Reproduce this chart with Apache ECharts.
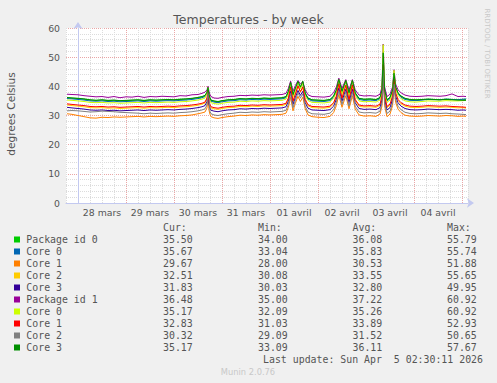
<!DOCTYPE html>
<html><head><meta charset="utf-8">
<script src="https://cdn.jsdelivr.net/npm/echarts@6/dist/echarts.min.js"></script>
<style>html,body{margin:0;padding:0;background:#f0f0f0;}#c{width:497px;height:383px;}</style>
</head><body><div id="c"></div>
<script>
// hours relative to 28 mars 00:00
const hours = [-5.5,-3,0,3,6,9,12,15,18,21,24,27,30,33,36,39,42,45,48,51,54,57,60,62,63.5,64.5,65,65.5,66,66.5,68,70,72,75,78,81,84,87,90,93,96,99,102,104,105.2,106.3,107.5,108.7,110,111.2,112.4,113.6,115,117,120,123,126,127.8,129.2,130.4,132,133.9,135.5,137.2,138.6,140.5,143,146,149,151,152,152.6,153.3,154.5,156,157.3,158,158.8,160,161.5,163.5,166,169,172,175,178,181,184,187,190,192.5,194];
const dayLabels = ['28 mars','29 mars','30 mars','31 mars','01 avril','02 avril','03 avril','04 avril'];
const yTickLabels = ['0','10','20','30','40','50','60'];

const seriesNames = ['Package id 0','Core 0','Core 1','Core 2','Core 3','Package id 1','Core 0','Core 1','Core 2','Core 3'];

const pkg0 = [36.1,36.0,35.8,35.6,35.3,35.2,35.3,35.1,35.2,35.0, 35.1,35.2,35.3,35.1,35.3,35.2,35.3,35.4,35.3,35.5, 35.6,35.8,36.1,36.4,36.8,37.9,39.4,37.1,35.9,35.2, 34.9,34.7,35.0,35.3,35.4,35.7,35.6,35.8,35.7,35.9, 35.8,35.9,36.0,36.4,38.2,41.2,37.1,39.3,41.5,39.7, 41.4,37.6,35.9,35.3,35.2,35.1,35.4,36.6,38.7,42.2, 38.2,41.8,37.7,41.9,37.7,35.8,35.5,35.6,35.4,36.1, 38.7,50.5,38.7,35.3,36.1,38.7,44.0,39.7,37.7,36.6, 35.8,35.4,35.3,35.4,35.6,35.5,35.4,35.6,35.5,35.3, 35.4,35.5];
const core0a = [35.8,35.7,35.5,35.3,35.0,34.9,35.0,34.8,34.9,34.7, 34.8,34.9,35.0,34.8,35.0,34.9,35.0,35.1,35.0,35.2, 35.3,35.5,35.8,36.1,36.5,37.6,39.0,36.8,35.6,34.9, 34.6,34.4,34.7,35.0,35.1,35.4,35.3,35.5,35.4,35.6, 35.5,35.6,35.7,36.1,37.9,41.0,36.8,39.0,41.2,39.4, 41.0,37.3,35.6,35.0,34.9,34.8,35.1,36.3,38.4,42.0, 37.9,41.6,37.4,41.6,37.4,35.5,35.2,35.3,35.1,35.8, 38.4,50.2,38.4,35.0,35.8,38.4,43.8,39.4,37.4,36.3, 35.5,35.2,35.1,35.3,35.5,35.4,35.4,35.6,35.5,35.4, 35.6,35.7];
const core1a = [30.6,30.4,30.0,29.6,29.2,29.1,29.4,29.3,29.5,29.4, 29.5,29.6,29.7,29.5,29.7,29.6,29.7,29.8,29.7,29.9, 30.0,30.2,30.6,30.9,31.2,32.6,36.5,31.8,30.4,29.6, 29.2,29.0,29.3,29.6,29.8,30.1,30.0,30.2,30.1,30.3, 30.2,30.3,30.4,30.8,32.8,36.2,31.6,34.2,36.6,34.8, 36.3,32.3,30.2,29.6,29.4,29.3,29.7,31.0,33.4,37.2, 32.8,36.8,32.3,36.8,32.2,30.2,29.8,29.9,29.7,30.5, 33.3,46.0,33.3,29.6,30.5,33.4,40.5,34.5,32.2,31.0, 30.1,29.8,29.7,29.8,30.0,29.9,29.8,30.0,29.9,29.7, 29.8,29.7];
const core2a = [33.6,33.4,33.2,33.0,32.7,32.6,32.7,32.5,32.6,32.4, 32.5,32.6,32.7,32.5,32.7,32.6,32.7,32.8,32.7,32.9, 33.0,33.2,33.5,33.9,34.3,35.8,38.3,34.7,33.3,32.6, 32.3,32.1,32.4,32.7,32.8,33.1,33.0,33.2,33.1,33.3, 33.2,33.3,33.4,33.8,35.7,39.5,34.6,37.2,40.0,38.0, 39.6,35.2,33.3,32.7,32.6,32.5,32.8,34.0,36.4,40.6, 35.7,40.2,35.2,40.2,35.2,33.2,32.9,33.0,32.8,33.5, 36.3,49.8,36.3,32.7,33.5,36.4,43.2,37.6,35.2,34.0, 33.2,32.8,32.7,32.8,33.0,32.9,32.8,32.9,32.8,32.6, 32.7,32.5];
const core3a = [32.8,32.6,32.4,32.2,31.9,31.8,31.9,31.7,31.8,31.6, 31.7,31.8,31.9,31.7,31.9,31.8,31.9,32.0,31.9,32.1, 32.2,32.4,32.7,33.0,33.4,34.8,37.4,33.8,32.5,31.8, 31.5,31.3,31.6,31.9,32.0,32.3,32.2,32.4,32.3,32.5, 32.4,32.5,32.6,33.0,34.9,38.3,33.8,36.2,38.6,36.9, 38.3,34.4,32.5,31.9,31.8,31.7,32.0,33.2,35.6,39.4, 34.9,39.0,34.4,39.0,34.4,32.4,32.1,32.2,32.0,32.7, 35.5,44.8,35.5,31.9,32.7,35.6,40.2,36.6,34.4,33.2, 32.4,32.0,31.9,32.0,32.2,32.1,32.0,32.1,32.0,31.8, 31.9,31.8];
const pkg1 = [37.3,37.2,37.1,36.8,36.6,36.4,36.5,36.2,36.5,36.1, 36.4,36.3,36.6,36.2,36.5,36.4,36.6,36.5,36.4,36.8, 36.7,37.1,37.2,37.6,38.0,38.8,40.0,38.3,37.1,36.5, 36.0,35.9,36.2,36.5,36.6,36.9,36.8,37.0,36.9,37.1, 37.0,37.1,37.2,37.6,39.3,41.8,38.3,40.3,42.0,40.8, 41.6,38.8,37.1,36.5,36.4,36.3,36.6,37.8,39.8,42.8, 39.3,42.3,38.8,42.3,38.8,37.0,36.7,36.8,36.6,37.3, 39.8,54.5,39.8,36.5,37.3,39.8,45.7,40.8,38.8,37.8, 37.0,36.6,36.5,36.6,36.8,36.7,36.6,36.8,37.4,36.5, 36.6,36.5];
const core0b = [35.3,35.2,35.0,34.8,34.5,34.4,34.5,34.3,34.4,34.2, 34.3,34.4,34.5,34.3,34.5,34.4,34.5,34.6,34.5,34.7, 34.8,35.0,35.3,35.6,36.0,37.8,39.5,36.3,35.1,34.4, 34.1,33.9,34.2,34.5,34.6,34.9,34.8,35.0,34.9,35.1, 35.0,35.1,35.2,35.6,37.4,41.0,36.3,38.6,41.4,39.2, 41.0,36.8,35.1,34.5,34.4,34.3,34.6,35.8,38.0,42.2, 37.4,41.8,36.9,41.9,36.9,35.0,34.7,34.8,34.6,35.3, 38.0,54.3,38.0,34.5,35.3,38.0,45.5,39.2,36.9,35.8, 35.0,34.7,34.6,34.8,35.0,34.9,34.9,35.1,35.0,35.0, 35.1,35.2];
const core1b = [34.0,33.8,33.6,33.4,33.1,33.0,33.1,32.9,33.0,32.8, 32.9,33.0,33.1,32.9,33.1,33.0,33.1,33.2,33.1,33.3, 33.4,33.6,33.9,34.2,34.6,36.0,38.6,35.0,33.7,33.0, 32.7,32.5,32.8,33.1,33.2,33.5,33.4,33.6,33.5,33.7, 33.6,33.7,33.8,34.2,36.0,39.8,35.0,37.4,40.2,38.2, 39.8,35.5,33.7,33.1,33.0,32.9,33.2,34.4,36.7,40.9, 36.0,40.4,35.5,40.5,35.5,33.6,33.3,33.4,33.2,33.9, 36.7,47.5,36.7,33.1,33.9,36.7,42.5,37.8,35.5,34.4, 33.6,33.2,33.1,33.2,33.4,33.3,33.2,33.3,33.1,33.0, 32.9,32.8];
const core2b = [31.6,31.7,31.6,31.4,31.2,31.3,31.5,31.4,31.3,31.1, 31.0,30.9,30.8,30.6,30.8,30.7,30.8,30.9,30.8,31.0, 31.1,31.3,31.6,31.9,32.3,33.6,38.0,36.5,31.4,30.6, 30.2,30.0,30.3,30.6,30.8,31.1,31.0,31.2,31.1,31.3, 31.2,31.3,31.4,31.8,33.8,37.5,32.7,35.2,37.8,36.0, 37.4,33.2,31.2,30.6,30.5,30.4,30.8,32.0,34.5,38.5, 33.8,38.1,33.2,38.0,33.2,31.2,30.9,31.0,30.8,31.5, 34.4,45.5,34.4,30.7,31.5,34.4,40.8,35.6,33.2,32.0, 31.1,30.7,30.6,30.7,30.9,30.8,30.7,30.8,30.6,30.5, 30.4,30.3];
const core3b = [36.2,36.0,35.9,35.7,35.4,35.2,35.4,35.2,35.3,35.1, 35.2,35.3,35.4,35.2,35.4,35.3,35.4,35.5,35.4,35.6, 35.7,35.9,36.2,36.5,36.9,38.0,39.6,37.2,36.0,35.3, 35.0,34.8,35.1,35.4,35.5,35.8,35.7,35.9,35.8,36.0, 35.9,36.0,36.1,36.5,38.3,41.4,37.2,39.4,41.7,39.8, 41.8,37.7,36.0,35.4,35.3,35.2,35.5,36.7,38.8,42.4, 38.3,42.0,37.8,42.1,37.8,35.9,35.6,35.7,35.5,36.2, 38.8,51.5,38.8,35.4,36.2,38.8,44.5,39.8,37.8,36.7, 35.9,35.5,35.4,35.5,35.6,35.5,35.4,35.5,35.4,35.3, 35.2,35.2];

const curVals = ['35.50','35.67','29.67','32.51','31.83','36.48','35.17','32.83','30.32','35.17'];
const minVals = ['34.00','33.04','28.00','30.08','30.03','35.00','32.09','31.03','29.09','33.09'];
const avgVals = ['36.08','35.83','30.53','33.55','32.80','37.22','35.26','33.89','31.52','36.11'];
const maxVals = ['55.79','55.74','51.88','55.65','49.95','60.92','60.92','52.93','50.65','57.67'];
const lastUpdate = 'Last update: Sun Apr  5 02:30:11 2026';

const colors = ['#00cc00','#0066b3','#ff8000','#ffcc00','#330099','#990099','#ccff00','#ff0000','#808080','#008f00'];
const allData = [pkg0, core0a, core1a, core2a, core3a, pkg1, core0b, core1b, core2b, core3b];

const chart = echarts.init(document.getElementById('c'), null, {renderer: 'svg', width: 497, height: 383});
const SANS = 'DejaVu Sans';
const MONO = 'DejaVu Sans Mono';
const TXT = '#555';
const MINOR = '#dcdcdc';
const MAJOR = '#eaa6a6';
const AXIS = '#c3c9f0';

const series = allData.map((vals, i) => ({
  name: seriesNames[i] + '#' + i,
  type: 'line',
  data: hours.map((h, k) => [h, vals[k]]),
  showSymbol: false,
  symbol: 'none',
  lineStyle: {width: 1, color: colors[i]},
  itemStyle: {color: colors[i]},
  silent: true
}));

const graphics = [];
graphics.push({type: 'text', x: 248.5, y: 19.5, style: {text: 'Temperatures - by week', font: '12.5px "' + SANS + '"', fill: TXT, textAlign: 'center', textVerticalAlign: 'middle'}});
graphics.push({type: 'text', x: 10.5, y: 114, rotation: Math.PI / 2, style: {text: 'degrees Celsius', font: '10.6px "' + SANS + '"', fill: TXT, textAlign: 'center', textVerticalAlign: 'middle'}});
graphics.push({type: 'text', x: 487, y: 53.5, rotation: -Math.PI / 2, style: {text: 'RRDTOOL / TOBI OETIKER', font: '7px "' + SANS + '"', fill: '#c8c8c8', textAlign: 'center', textVerticalAlign: 'middle'}});
const colX = [163, 258, 352.5, 447];
const headers = ['Cur:', 'Min:', 'Avg:', 'Max:'];
const legendFont = '9.9px "' + MONO + '"';
headers.forEach((h, j) => graphics.push({type: 'text', x: colX[j], y: 227.5, style: {text: h, font: legendFont, fill: TXT, textAlign: 'left', textVerticalAlign: 'middle'}}));
seriesNames.forEach((nm, i) => {
  const y = 239.5 + 12 * i;
  graphics.push({type: 'rect', shape: {x: 14, y: y - 3, width: 6, height: 6}, style: {fill: colors[i]}});
  graphics.push({type: 'text', x: 26.3, y: y, style: {text: nm, font: legendFont, fill: TXT, textAlign: 'left', textVerticalAlign: 'middle'}});
  [curVals, minVals, avgVals, maxVals].forEach((arr, j) => {
    graphics.push({type: 'text', x: colX[j], y: y, style: {text: arr[i], font: legendFont, fill: TXT, textAlign: 'left', textVerticalAlign: 'middle'}});
  });
});
graphics.push({type: 'text', x: 483, y: 359.5, style: {text: lastUpdate, font: legendFont, fill: TXT, textAlign: 'right', textVerticalAlign: 'middle'}});
graphics.push({type: 'text', x: 248, y: 372, style: {text: 'Munin 2.0.76', font: '8.3px "' + SANS + '"', fill: '#c8c8c8', textAlign: 'center', textVerticalAlign: 'middle'}});

chart.setOption({
  animation: false,
  backgroundColor: '#f0f0f0',
  grid: {left: 66, top: 28, width: 402, height: 175, show: true, backgroundColor: '#ffffff', borderWidth: 0, containLabel: false},
  xAxis: {
    type: 'value', min: -6, max: 195, interval: 6,
    axisLine: {show: true, lineStyle: {color: AXIS, width: 1}, symbol: ['none', 'arrow'], symbolSize: [7, 7], symbolOffset: [0, 6]},
    axisTick: {show: false},
    axisLabel: {
      color: TXT, fontFamily: SANS, fontSize: 9.33, margin: 5,
      showMinLabel: true, showMaxLabel: true,
      formatter: v => { const r = v - 12; if (r >= 0 && r % 24 === 0) { return dayLabels[r / 24] || ''; } return ''; }
    },
    splitLine: {show: true, lineStyle: {color: [MINOR, MAJOR, MINOR, MINOR], type: 'dotted', width: 1}}
  },
  yAxis: {
    type: 'value', min: 0, max: 60, interval: 2,
    axisLine: {show: true, lineStyle: {color: AXIS, width: 1}, symbol: ['none', 'arrow'], symbolSize: [7, 7], symbolOffset: [0, 6]},
    axisTick: {show: false},
    axisLabel: {
      color: TXT, fontFamily: SANS, fontSize: 9.33, margin: 6,
      formatter: v => (v % 10 === 0 ? yTickLabels[v / 10] : '')
    },
    splitLine: {show: true, lineStyle: {color: [MAJOR, MINOR, MINOR, MINOR, MINOR], type: 'dotted', width: 1}}
  },
  series: series,
  graphic: graphics
});
</script></body></html>
